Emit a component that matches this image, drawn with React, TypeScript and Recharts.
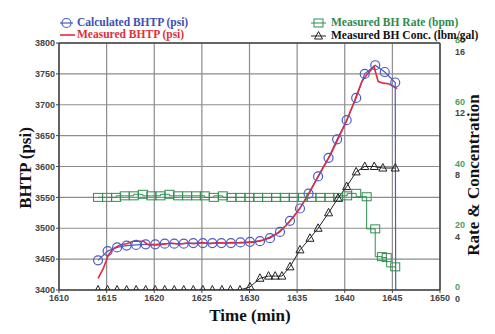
import React from 'react';
import { ComposedChart, Line, XAxis, YAxis, CartesianGrid, ReferenceLine } from 'recharts';

const TIME_TICKS = [1610, 1615, 1620, 1625, 1630, 1635, 1640, 1645, 1650];
const BHTP_TICKS = [3400, 3450, 3500, 3550, 3600, 3650, 3700, 3750, 3800];
const RATE_TICKS = [0, 20, 40, 60, 80];
const CONC_TICKS = [0, 4, 8, 12, 16];

// Calculated BHTP (psi)
const calcTime = [1614.1, 1615.1, 1616.1, 1617.1, 1618.1, 1619.1, 1620.1, 1621.1, 1622.1, 1623.1, 1624.1, 1625.1, 1626.1, 1627.05, 1628.05, 1629.05, 1630.05, 1631.1, 1632.15, 1633.2, 1634.25, 1635.3, 1636.2, 1637.2, 1638.3, 1639.2, 1640.2, 1641.2, 1642.1, 1643.2, 1644.2, 1645.3, 1645.35];
const calcBhtp = [3448, 3463, 3469, 3472, 3473, 3474, 3474, 3475, 3475, 3475, 3476, 3476, 3476, 3476, 3476, 3477, 3478, 3479, 3484, 3494, 3512, 3532, 3556, 3584, 3614, 3644, 3675, 3711, 3750, 3764, 3753, 3736, 3400];

// Measured BHTP (psi)
const measTime = [1614.1, 1614.65, 1615.2, 1615.7, 1616.4, 1617.1, 1617.8, 1618.85, 1619.4, 1620.2, 1621.0, 1621.8, 1622.6, 1623.4, 1624.2, 1625.0, 1625.8, 1626.6, 1627.4, 1628.2, 1629.0, 1629.8, 1630.6, 1631.4, 1632.2, 1633.0, 1633.8, 1634.6, 1635.4, 1636.2, 1637.0, 1637.8, 1638.6, 1639.4, 1640.2, 1641.0, 1641.8, 1642.4, 1643.07, 1643.5, 1644.0, 1644.6, 1645.1, 1645.5];
const measBhtp = [3419, 3435, 3457, 3467, 3473, 3475, 3479, 3479, 3473, 3473, 3474, 3476, 3474, 3476, 3475, 3477, 3475, 3477, 3476, 3477, 3476, 3477, 3478, 3481, 3486, 3493, 3504, 3518, 3535, 3555, 3578, 3600, 3622, 3648, 3674, 3705, 3738, 3750, 3762, 3738, 3735, 3734, 3730, 3726];

// Measured BH Rate (bpm)
const rateTime = [1614.1, 1615.05, 1616.0, 1616.9, 1617.85, 1618.8, 1619.7, 1620.65, 1621.6, 1622.5, 1623.45, 1624.4, 1625.3, 1626.25, 1627.2, 1628.1, 1629.05, 1630.0, 1630.9, 1631.85, 1632.8, 1633.7, 1634.65, 1635.6, 1636.5, 1637.45, 1638.4, 1639.3, 1640.25, 1641.2, 1642.3, 1643.2, 1643.9, 1644.4, 1645.3];
const rateBpm = [30, 30, 30, 30.5, 30.5, 31, 30.5, 30.5, 31, 30.5, 30.5, 30.5, 30.5, 30, 30.5, 30, 30, 30, 30, 30, 30, 30, 30, 30, 30, 30, 30, 30, 30.5, 31.3, 30.2, 19.8, 10.8, 10.5, 7.5];

// Measured BH Conc. (lbm/gal)
const concTime = [1614.1, 1615.1, 1616.1, 1617.1, 1618.1, 1619.1, 1620.1, 1621.1, 1622.1, 1623.1, 1624.1, 1625.1, 1626.1, 1627.1, 1628.0, 1629.0, 1630.05, 1631.1, 1632.0, 1632.7, 1633.4, 1634.25, 1635.3, 1636.35, 1637.2, 1638.3, 1639.3, 1640.2, 1641.2, 1642.1, 1643.1, 1644.0, 1645.3];
const concLbm = [0, 0, 0, 0, 0, 0, 0, 0, 0, 0, 0, 0, 0, 0, 0, 0, 0.2, 0.76, 0.9, 0.9, 0.9, 1.5, 2.6, 3.35, 4.0, 5.0, 5.95, 6.7, 7.65, 8.0, 8.0, 7.9, 7.9];

const zip = (ts: number[], vs: number[]) => ts.map((t, i) => ({ t, v: vs[i] }));
const calcData = zip(calcTime, calcBhtp);
const measData = zip(measTime, measBhtp);
const rateData = zip(rateTime, rateBpm);
const concData = zip(concTime, concLbm);

const BLUE = '#4a5cc4';
const RED = '#e8283c';
const GREEN = '#2f8f4f';
const BLACK = '#222';
const SANS = 'Liberation Sans, Arial, sans-serif';
const TICK_FONT = { fontSize: 9, fontWeight: 700, fill: '#444', fontFamily: SANS };

const circleDot = (p: any) => {
  const { cx, cy, index } = p;
  if (index === calcData.length - 1) return <g key={`c${index}`} />;
  return <circle key={`c${index}`} cx={cx} cy={cy} r={4.5} fill="none" stroke={BLUE} strokeWidth={1.2} />;
};
const squareDot = (p: any) => {
  const { cx, cy, index } = p;
  return <rect key={`s${index}`} x={cx - 4.5} y={cy - 4} width={9} height={8} fill="none" stroke={GREEN} strokeWidth={1} />;
};
const triDot = (p: any) => {
  const { cx, cy, index } = p;
  return <path key={`t${index}`} d={`M${cx},${cy - 4.5} L${cx + 4},${cy + 3} L${cx - 4},${cy + 3} Z`} fill="none" stroke={BLACK} strokeWidth={1} />;
};

const LeftTick = (props: any) => {
  const { x, y, payload } = props;
  return (
    <text x={x} y={y} dy="0.35em" textAnchor="end" fontSize={9} fontWeight={700} fill="#444" fontFamily={SANS}>{payload.value}</text>
  );
};

const RightTick = (props: any) => {
  const { x, y, payload } = props;
  const i = RATE_TICKS.indexOf(payload.value);
  return (
    <g>
      <text x={x} y={y - 3} dy="0.35em" textAnchor="start" fontSize={9} fontWeight={700} fill="#4aa060" fontFamily={SANS}>{payload.value}</text>
      <text x={x} y={y + 8.5} dy="0.35em" textAnchor="start" fontSize={9} fontWeight={700} fill="#444" fontFamily={SANS}>{CONC_TICKS[i]}</text>
    </g>
  );
};

const serif = '"Liberation Serif", "Times New Roman", serif';

const LegendText = ({ x, y, color, children }: any) => (
  <div style={{ position: 'absolute', left: x, top: y, transform: 'translateY(-50%)', fontFamily: serif, fontWeight: 700, fontSize: 11.5, color, whiteSpace: 'nowrap', lineHeight: 1 }}>{children}</div>
);

export default function App() {
  return (
    <div style={{ position: 'absolute', left: 0, top: 0, width: 495, height: 334, background: '#fff' }}>
      <ComposedChart width={495} height={334} margin={{ top: 43, right: 15, bottom: 0, left: 9 }}>
        <CartesianGrid yAxisId="left" stroke="#8c8c8c" strokeWidth={1.2} />
        <XAxis dataKey="t" type="number" domain={[1610, 1650]} ticks={TIME_TICKS} allowDataOverflow height={44}
          tick={TICK_FONT} tickSize={3} tickMargin={2} axisLine={{ stroke: '#444', strokeWidth: 1.5 }} tickLine={{ stroke: '#444' }} />
        <YAxis yAxisId="left" orientation="left" domain={[3400, 3800]} ticks={BHTP_TICKS} allowDataOverflow width={50}
          tick={<LeftTick />} tickSize={3} tickMargin={1} axisLine={{ stroke: '#444', strokeWidth: 1.5 }} tickLine={{ stroke: '#444' }} />
        <YAxis yAxisId="rate" orientation="right" domain={[0, 80]} ticks={RATE_TICKS} allowDataOverflow width={40}
          tick={<RightTick />} tickSize={3} tickMargin={12} tickLine={false} axisLine={{ stroke: '#444', strokeWidth: 1.5 }} />
        <YAxis yAxisId="conc" orientation="right" hide width={0} domain={[0, 16]} allowDataOverflow />
        <ReferenceLine yAxisId="left" y={3800} stroke="#444" strokeWidth={1.5} />
        <Line data={calcData} dataKey="v" yAxisId="left" type="linear" stroke={BLUE} strokeWidth={1.2} dot={circleDot} isAnimationActive={false} />
        <Line data={measData} dataKey="v" yAxisId="left" type="linear" stroke={RED} strokeWidth={1.6} dot={false} isAnimationActive={false} />
        <Line data={rateData} dataKey="v" yAxisId="rate" type="stepBefore" stroke={GREEN} strokeWidth={1} dot={squareDot} isAnimationActive={false} />
        <Line data={concData} dataKey="v" yAxisId="conc" type="linear" stroke={BLACK} strokeWidth={1} dot={triDot} isAnimationActive={false} />
      </ComposedChart>

      {/* Legends */}
      <svg style={{ position: 'absolute', left: 0, top: 0 }} width={495} height={50}>
        <line x1={60} y1={23} x2={73} y2={23} stroke={BLUE} strokeWidth={1.2} />
        <circle cx={66.5} cy={23} r={4.5} fill="none" stroke={BLUE} strokeWidth={1.2} />
        <line x1={60} y1={35} x2={75} y2={35} stroke={RED} strokeWidth={1.6} />
        <line x1={311} y1={23} x2={326} y2={23} stroke={GREEN} strokeWidth={1} />
        <rect x={314} y={19} width={9} height={8} fill="none" stroke={GREEN} strokeWidth={1} />
        <line x1={311} y1={36} x2={326} y2={36} stroke={BLACK} strokeWidth={1} />
        <path d="M318.5,31.5 L322.5,39 L314.5,39 Z" fill="none" stroke={BLACK} strokeWidth={1} />
      </svg>
      <LegendText x={77} y={23} color="#3d4fb5">Calculated BHTP (psi)</LegendText>
      <LegendText x={77} y={35} color="#e0303c">Measured BHTP (psi)</LegendText>
      <LegendText x={331} y={23} color="#2e8b4e">Measured BH Rate (bpm)</LegendText>
      <LegendText x={331} y={36} color="#111">Measured BH Conc. (lbm/gal)</LegendText>

      {/* Axis titles */}
      <div style={{ position: 'absolute', left: 25, top: 168, transform: 'translate(-50%, -50%) rotate(-90deg)', fontFamily: serif, fontWeight: 700, fontSize: 17, color: '#111', whiteSpace: 'nowrap', lineHeight: 1 }}>BHTP (psi)</div>
      <div style={{ position: 'absolute', left: 250, top: 315, transform: 'translate(-50%, -50%)', fontFamily: serif, fontWeight: 700, fontSize: 17, color: '#111', whiteSpace: 'nowrap', lineHeight: 1 }}>Time (min)</div>
      <div style={{ position: 'absolute', left: 473, top: 175, transform: 'translate(-50%, -50%) rotate(-90deg)', fontFamily: serif, fontWeight: 700, fontSize: 17, color: '#111', whiteSpace: 'nowrap', lineHeight: 1 }}>Rate &amp; Concentration</div>
    </div>
  );
}
